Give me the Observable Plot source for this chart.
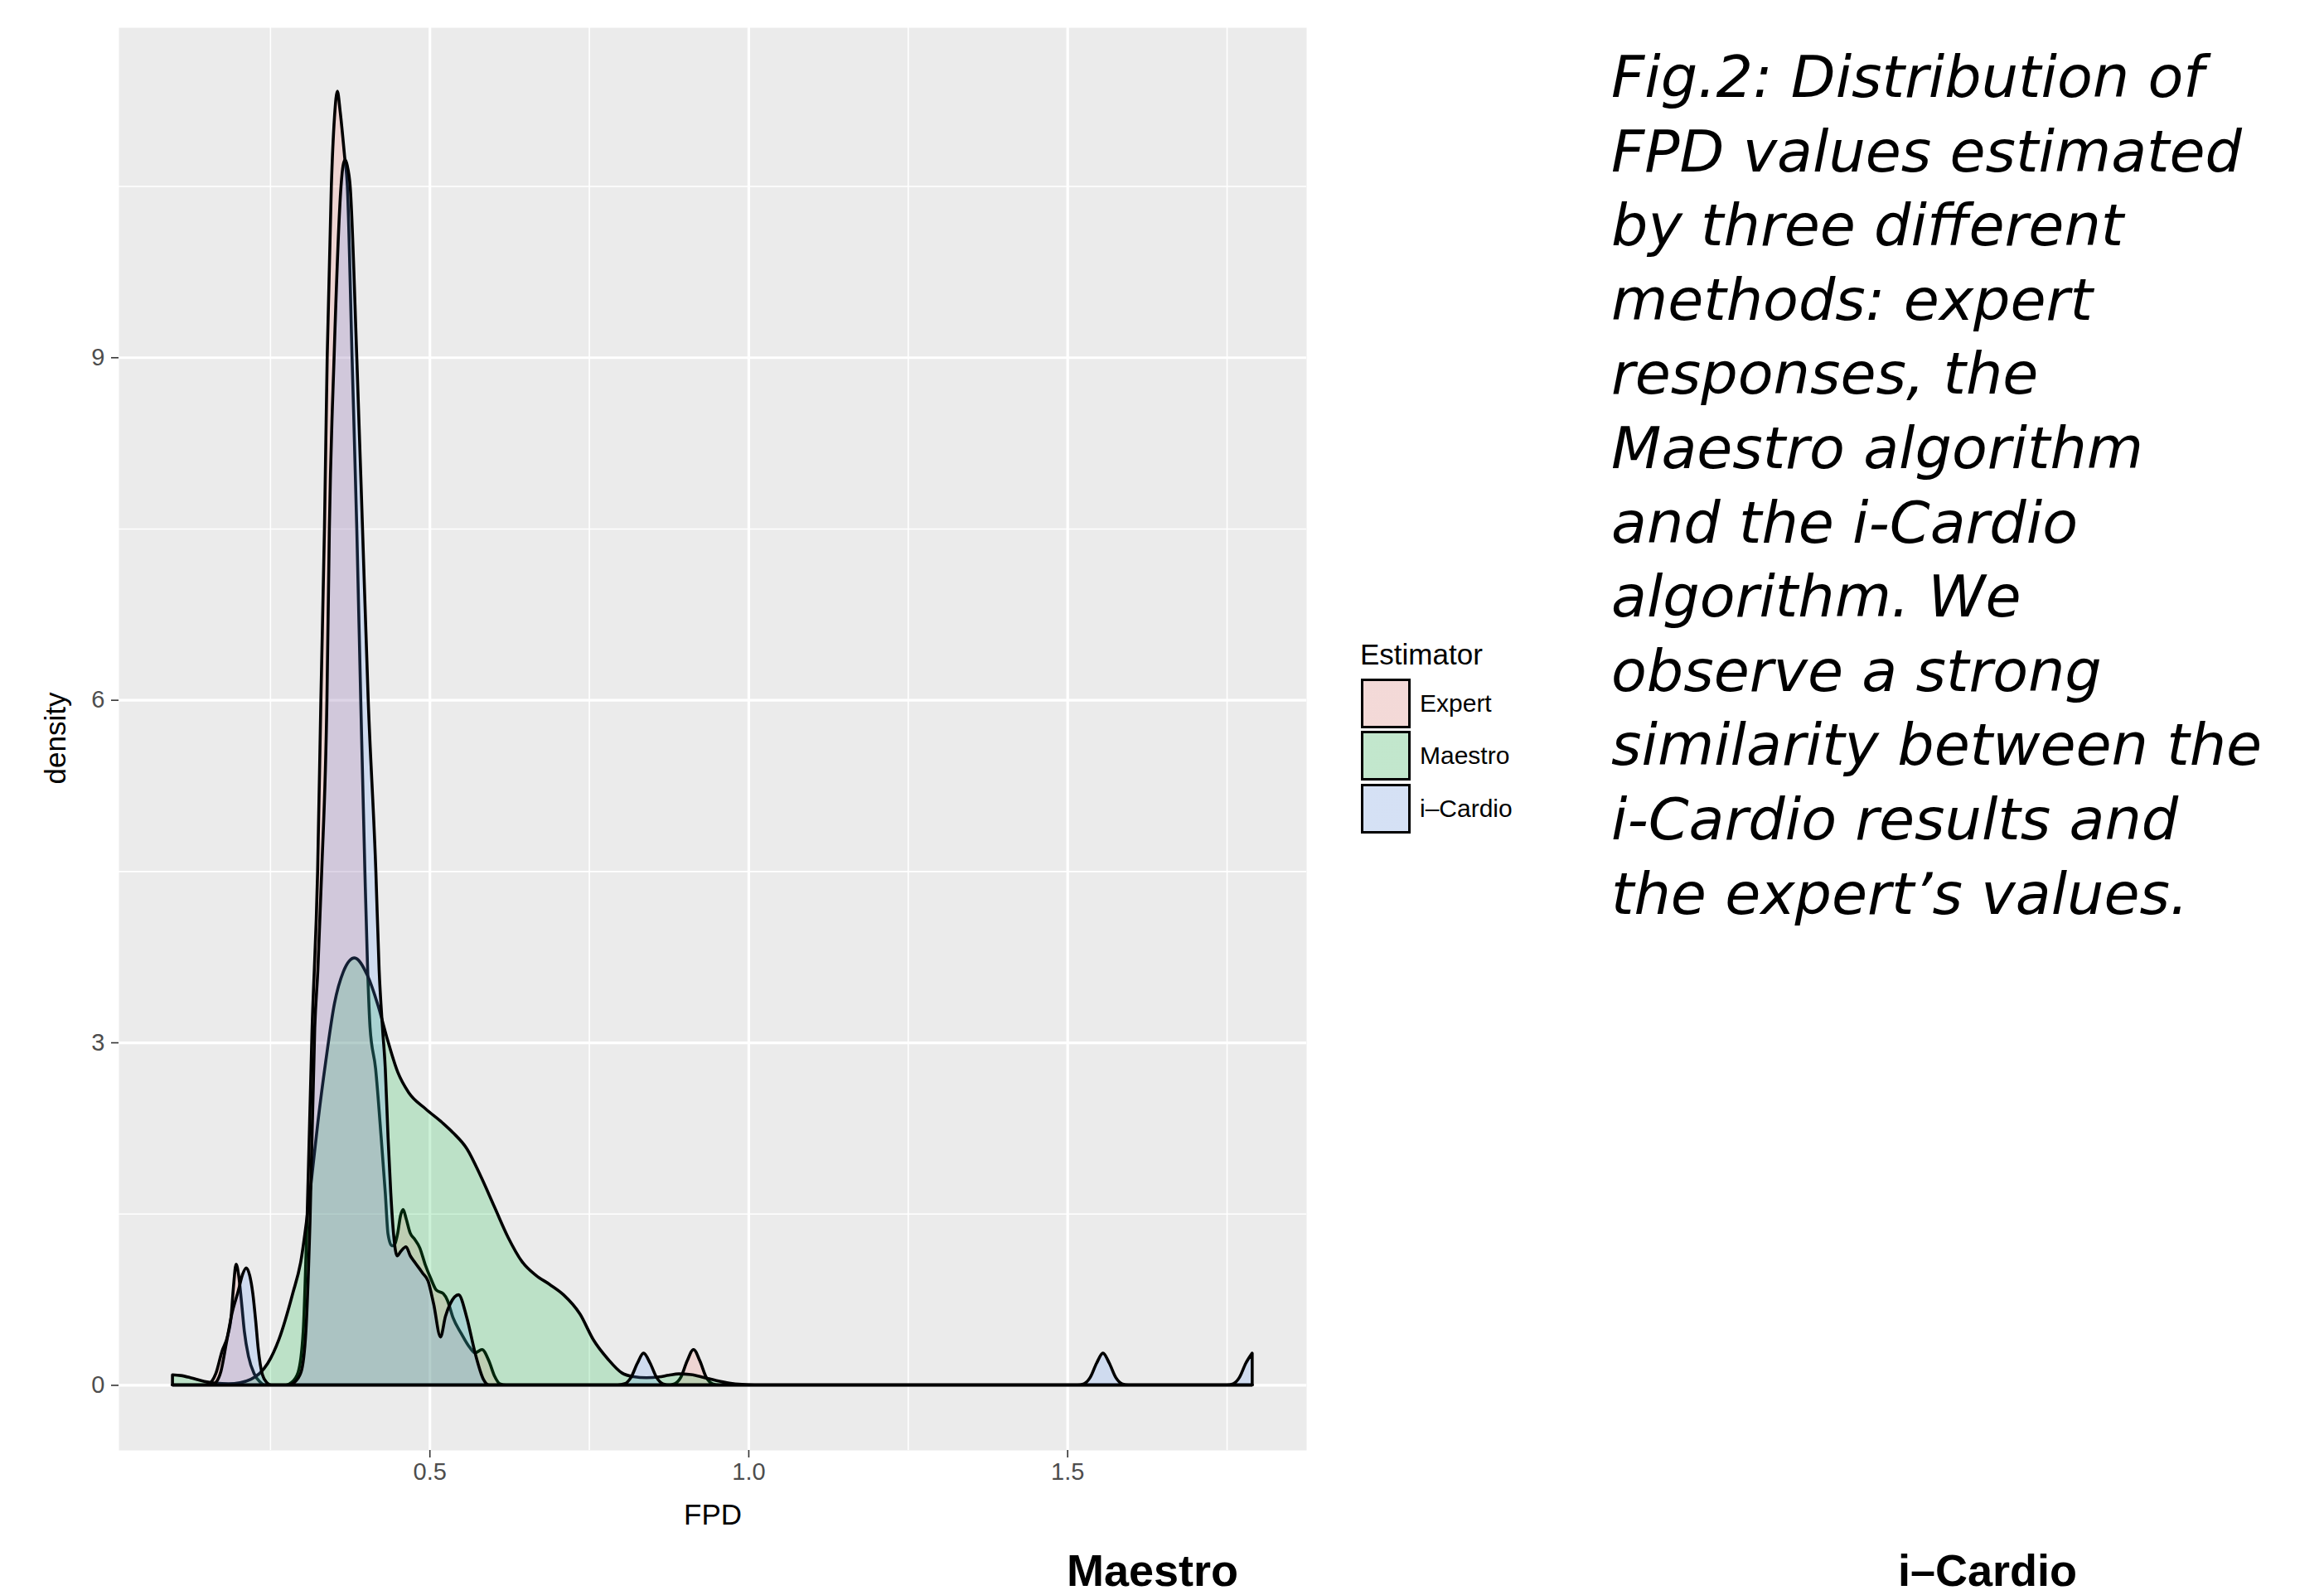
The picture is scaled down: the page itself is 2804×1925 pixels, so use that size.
<!DOCTYPE html>
<html><head><meta charset="utf-8">
<script src="https://cdn.jsdelivr.net/npm/d3@7"></script>
<script src="https://cdn.jsdelivr.net/npm/@observablehq/plot@0.6"></script>
<style>
html,body{margin:0;padding:0;background:#fff;}
#root{position:relative;width:2804px;height:1925px;overflow:hidden;background:#fff;font-family:"Liberation Sans",Arial,Helvetica,sans-serif;color:#000;}
.abs{position:absolute;white-space:nowrap;}
</style></head><body><div id="root"></div>
<script>
// ---- categories & colours ----
const estimators = ["Expert", "Maestro", "i\u2013Cardio"];
const palette = ["#F8766D", "#00BA38", "#619CFF"];

// ---- density curves (FPD, density) ----
const expertFPD = [0.097,0.15,0.155,0.165,0.175,0.183,0.189,0.1925,0.1968,0.201,0.2055,0.2097,0.2162,0.225,0.2335,0.242,
  0.275,0.2834,0.294,0.302,0.308,0.3158,0.3246,0.3297,0.3353,0.3396,0.3461,0.351,0.3556,0.36,0.3669,0.3712,0.3786,0.386,
  0.3922,0.3987,0.403,0.4068,0.4155,0.4242,0.4307,0.435,0.4407,0.4437,0.4502,0.4545,0.4588,0.4632,0.4697,0.4762,0.4848,
  0.4935,0.5022,0.5108,0.5217,0.5282,0.5368,0.5498,0.5628,0.5715,0.5823,0.5932,0.6018,0.6105,0.62,
  0.874,0.884,0.894,0.904,0.914,0.924,0.934,0.944,0.954,1.79];
const expertDensity = [0,0,0.01,0.1,0.3,0.42,0.6,0.85,1.057,0.95,0.71,0.47,0.25,0.10,0.03,0,
  0,0.02,0.11,0.47,1.44,3.1,4.5,6,7.5,9,10.5,11.1,11.33,11.15,10.76,10.5,9,7.5,
  6,4.5,3.64,3.13,2.77,2.17,1.68,1.32,1.22,1.22,1.33,1.48,1.536,1.46,1.33,1.28,1.2,
  1.05,0.93,0.83,0.80,0.74,0.59,0.45,0.33,0.28,0.31,0.21,0.08,0.01,0,
  0,0.01,0.066,0.21,0.31,0.21,0.066,0.01,0,0];

const maestroFPD = [0.097,0.11,0.125,0.147,0.165,0.185,0.203,0.22,0.2335,0.2465,0.264,0.2855,0.2985,0.3071,0.315,0.325,
  0.3375,0.351,0.365,0.3823,0.4024,0.42,0.4328,0.4502,0.4675,0.4935,0.5195,0.5368,0.5585,0.5802,0.6018,0.6235,0.6451,
  0.6668,0.6885,0.7101,0.7361,0.757,0.78,0.802,0.82,0.84,0.86,0.875,0.891,0.91,0.93,0.95,0.97,0.99,1.01,1.79];
const maestroDensity = [0.089,0.082,0.064,0.03,0.015,0.01,0.02,0.05,0.10,0.19,0.40,0.80,1.09,1.43,1.8,2.3,
  2.84,3.34,3.62,3.74,3.59,3.31,3.05,2.74,2.56,2.42,2.30,2.21,2.07,1.83,1.56,1.29,1.08,
  0.96,0.88,0.79,0.62,0.395,0.225,0.104,0.072,0.063,0.07,0.085,0.097,0.09,0.065,0.038,0.016,0.004,0,0];

const icardioFPD = [0.097,0.16,0.165,0.173,0.1816,0.19,0.2,0.207,0.2127,0.218,0.223,0.2275,0.2314,0.238,0.245,0.252,
  0.28,0.2877,0.2985,0.3062,0.3127,0.3201,0.325,0.331,0.3392,0.343,0.3504,0.3613,0.3645,0.3678,0.371,0.3756,0.386,0.395,
  0.4039,0.4159,0.421,0.4263,0.4307,0.435,0.4393,0.4437,0.4493,0.455,0.4632,0.47,0.4762,0.4892,0.4978,0.5065,0.5173,
  0.525,0.5325,0.5455,0.5585,0.5715,0.5845,0.5932,
  0.795,0.806,0.816,0.826,0.8356,0.846,0.856,0.866,0.876,
  1.516,1.526,1.536,1.546,1.556,1.566,1.576,1.586,1.596,
  1.75,1.76,1.77,1.78,1.79];
const icardioDensity = [0,0,0.02,0.12,0.37,0.62,0.82,0.97,1.025,0.96,0.8,0.56,0.32,0.09,0.02,0,
  0,0.02,0.11,0.47,1.44,3.13,3.64,4.5,6,7.5,9,10.5,10.68,10.73,10.68,10.5,9,7.5,
  6,4.5,3.64,3.13,2.77,2.17,1.68,1.32,1.13,1.17,1.21,1.13,1.08,0.98,0.91,0.71,0.42,
  0.6,0.71,0.79,0.59,0.28,0.05,0,
  0,0.01,0.066,0.19,0.278,0.19,0.066,0.01,0,
  0,0.01,0.066,0.19,0.278,0.19,0.066,0.01,0,
  0,0.01,0.066,0.19,0.278];

// ---- axes ----
const xTicks = [0.5, 1.0, 1.5];
const xMinor = [0.25, 0.75, 1.25, 1.75];
const yTicks = [0, 3, 6, 9];
const yMinor = [1.5, 4.5, 7.5, 10.5];
const xTitle = "FPD";
const yTitle = "density";
const legendTitle = "Estimator";
const panelLabels = ["Maestro", "i\u2013Cardio"];
const captionLines = [
  "Fig.2: Distribution of",
  "FPD values estimated",
  "by three different",
  "methods: expert",
  "responses, the",
  "Maestro algorithm",
  "and the i-Cardio",
  "algorithm. We",
  "observe a strong",
  "similarity between the",
  "i-Cardio results and",
  "the expert\u2019s values."
];

// ---- build table ----
const series = [
  [estimators[0], expertFPD, expertDensity],
  [estimators[1], maestroFPD, maestroDensity],
  [estimators[2], icardioFPD, icardioDensity]
];
const rows = series.flatMap(([est, xs, ys]) => xs.map((x, i) => ({est, fpd: x, density: ys[i]})));

const root = document.getElementById("root");

const chart = Plot.plot({
  width: 1600, height: 1850,
  marginLeft: 143, marginRight: 24, marginTop: 33, marginBottom: 100,
  style: {fontFamily: "Liberation Sans, Arial, Helvetica, sans-serif", fontSize: "29px", background: "transparent", overflow: "visible"},
  x: {domain: [0.0124, 1.8747], label: null},
  y: {domain: [-0.57, 11.89], label: null},
  color: {domain: estimators, range: palette},
  marks: [
    Plot.frame({fill: "#EBEBEB"}),
    Plot.ruleX(xMinor, {stroke: "white", strokeWidth: 1.6}),
    Plot.ruleY(yMinor, {stroke: "white", strokeWidth: 1.6}),
    Plot.ruleX(xTicks, {stroke: "white", strokeWidth: 3.2}),
    Plot.ruleY(yTicks, {stroke: "white", strokeWidth: 3.2}),
    Plot.areaY(rows, {x: "fpd", y1: 0, y2: "density", z: "est", fill: "est", fillOpacity: 0.2,
      stroke: "black", strokeWidth: 3.6, strokeLinejoin: "round", curve: "monotone-x"}),
    Plot.axisX({ticks: xTicks, tickFormat: d3.format(".1f"), tickSize: 9, tickPadding: 6, fontSize: 29,
      stroke: "#333333", strokeWidth: 1.6, fill: "#4D4D4D", label: null}),
    Plot.axisY({ticks: yTicks, tickFormat: d3.format("d"), tickSize: 9, tickPadding: 8, fontSize: 29,
      stroke: "#333333", strokeWidth: 1.6, fill: "#4D4D4D", label: null})
  ]
});
chart.style.position = "absolute";
chart.style.left = "0px";
chart.style.top = "0px";
root.appendChild(chart);

function addText(txt, css) {
  const d = document.createElement("div");
  d.className = "abs";
  d.textContent = txt;
  Object.assign(d.style, css);
  root.appendChild(d);
  return d;
}

// axis titles
addText(xTitle, {left: "860px", top: "1827px", fontSize: "35px", lineHeight: "35px", transform: "translate(-50%,-50%)"});
addText(yTitle, {left: "66px", top: "891px", fontSize: "35px", lineHeight: "35px", transform: "translate(-50%,-50%) rotate(-90deg)"});

// legend
addText(legendTitle, {left: "1641px", top: "772px", fontSize: "35px", lineHeight: "35px"});
const keyTops = [819, 882, 946];
estimators.forEach((e, i) => {
  const c = d3.color(palette[i]); c.opacity = 0.2;
  const k = document.createElement("div");
  k.className = "abs";
  Object.assign(k.style, {left: "1642px", top: keyTops[i] + "px", width: "60px", height: "60px", boxSizing: "border-box",
    border: "3.6px solid black", background: `linear-gradient(${c.formatRgb()},${c.formatRgb()}), #F2F2F2`});
  root.appendChild(k);
  addText(e, {left: "1713px", top: (keyTops[i] + 30 - 15) + "px", fontSize: "30px", lineHeight: "30px"});
});

// caption
const cap = document.createElement("div");
cap.className = "abs";
Object.assign(cap.style, {left: "1944px", top: "49px", fontFamily: "'DejaVu Sans', sans-serif", fontStyle: "italic",
  fontSize: "70px", lineHeight: "89.6px", color: "#000"});
captionLines.forEach(l => { const d = document.createElement("div"); d.textContent = l; cap.appendChild(d); });
root.appendChild(cap);

// bottom panel labels (cut-off figure parts), kept fully inside the page
addText(panelLabels[0], {left: "1287px", top: "1872px", fontSize: "54px", lineHeight: "46px", fontWeight: "bold"});
addText(panelLabels[1], {left: "2290px", top: "1872px", fontSize: "54px", lineHeight: "46px", fontWeight: "bold"});
</script></body></html>
